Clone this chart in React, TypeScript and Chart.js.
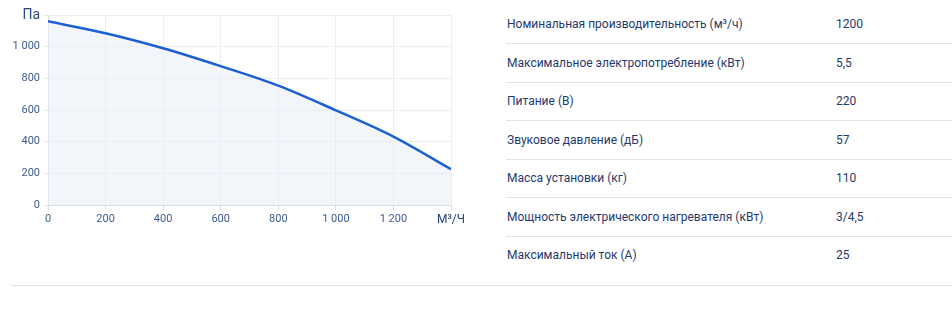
import React, { useEffect, useRef } from "react";
import { Chart, registerables } from "chart.js";

Chart.register(...registerables);

const flowValues = [0, 200, 400, 600, 800, 1000, 1200, 1400];
const pressureValues = [1160, 1085, 990, 877, 754, 598, 432, 226];
const xUnit = "М³/Ч";
const yUnit = "Па";

const specNames = [
  "Номинальная производительность (м³/ч)",
  "Максимальное электропотребление (кВт)",
  "Питание (В)",
  "Звуковое давление (дБ)",
  "Масса установки (кг)",
  "Мощность электрического нагревателя (кВт)",
  "Максимальный ток (А)",
];
const specValues = ["1200", "5,5", "220", "57", "110", "3/4,5", "25"];

const fmt = (v: number) => {
  const s = String(Math.round(v));
  return s.replace(/\B(?=(\d{3})+(?!\d))/g, " ");
};

const FONT = "Roboto, 'Noto Sans', sans-serif";

export default function App() {
  const ref = useRef<HTMLCanvasElement | null>(null);

  useEffect(() => {
    document.body.style.margin = "0";
    const canvas = ref.current;
    if (!canvas) return;
    const chart = new Chart(canvas, {
      type: "line",
      data: {
        datasets: [
          {
            data: flowValues.map((x, i) => ({ x, y: pressureValues[i] })),
            borderColor: "#1c5fd0",
            borderWidth: 2.5,
            backgroundColor: "rgba(232,238,248,0.55)",
            fill: "origin",
            pointRadius: 0,
            tension: 0.4,
            cubicInterpolationMode: "monotone",
          },
        ],
      },
      options: {
        animation: false,
        responsive: false,
        maintainAspectRatio: false,
        layout: { padding: { top: 15, right: 19, left: 0, bottom: 0 } },
        plugins: { legend: { display: false }, tooltip: { enabled: false } },
        scales: {
          x: {
            type: "linear",
            min: 0,
            max: 1400,
            border: { color: "#d9dce2", width: 1 },
            grid: { color: "#eceef2", tickLength: 5, tickColor: "#d9dce2" },
            ticks: {
              stepSize: 200,
              padding: 3,
              color: (c: any) => (c.tick && c.tick.value === 1400 ? "#1f3f7a" : "#3d5b8f"),
              font: (c: any) =>
                c.tick && c.tick.value === 1400
                  ? { family: FONT, size: 12 }
                  : { family: FONT, size: 11 },
              callback: (v: any) => (Number(v) === 1400 ? xUnit : fmt(Number(v))),
              maxRotation: 0,
              autoSkip: false,
            },
            afterFit: (s: any) => {
              s.height = 30;
            },
          },
          y: {
            type: "linear",
            min: 0,
            max: 1200,
            border: { color: "#d9dce2", width: 1 },
            grid: { color: "#eceef2", tickLength: 4, tickColor: "#e3e5ea" },
            ticks: {
              stepSize: 200,
              padding: 4,
              color: (c: any) => (c.tick && c.tick.value === 1200 ? "#2b4a80" : "#3d5b8f"),
              font: (c: any) =>
                c.tick && c.tick.value === 1200
                  ? { family: FONT, size: 14 }
                  : { family: FONT, size: 11 },
              callback: (v: any) => (Number(v) === 1200 ? yUnit : fmt(Number(v))),
              autoSkip: false,
            },
            afterFit: (s: any) => {
              s.width = 48;
            },
          },
        },
      },
    } as any);
    return () => chart.destroy();
  }, []);

  return (
    <div
      style={{
        position: "absolute",
        left: 0,
        top: 0,
        width: 952,
        height: 318,
        background: "#ffffff",
        fontFamily: FONT,
        overflow: "hidden",
      }}
    >
      <canvas
        ref={ref}
        width={470}
        height={235}
        style={{ position: "absolute", left: 0, top: 0, width: 470, height: 235 }}
      />
      {specNames.map((name, i) => (
        <div
          key={i}
          style={{
            position: "absolute",
            left: 506,
            top: 5 + i * 38.5,
            width: 446,
            height: 38,
            borderBottom: i < specNames.length - 1 ? "1px solid #e1e4ea" : "none",
            color: "#1f3a6b",
            fontSize: 12,
            lineHeight: "38px",
          }}
        >
          <span style={{ position: "absolute", left: 1 }}>{name}</span>
          <span style={{ position: "absolute", left: 330 }}>{specValues[i]}</span>
        </div>
      ))}
      <div
        style={{
          position: "absolute",
          left: 11,
          top: 285,
          width: 941,
          height: 1,
          background: "#e1e4ea",
        }}
      />
    </div>
  );
}
